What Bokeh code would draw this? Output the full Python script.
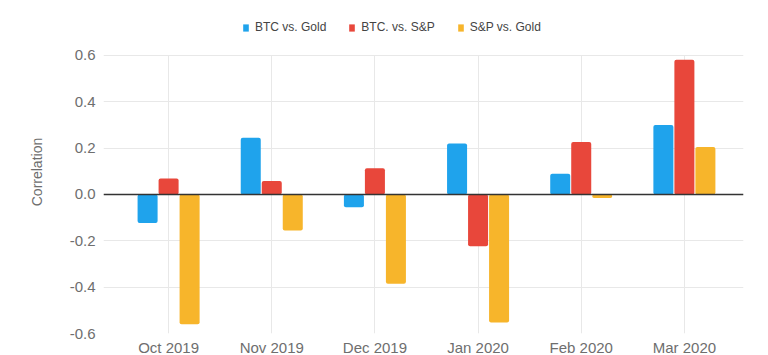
from bokeh.plotting import figure
from bokeh.models import (ColumnDataSource, Range1d, FixedTicker, PrintfTickFormatter,
                          Span, Legend, LegendItem, BoxAnnotation)
from bokeh.embed import file_html
from bokeh.resources import INLINE

months = ["Oct 2019", "Nov 2019", "Dec 2019", "Jan 2020", "Feb 2020", "Mar 2020"]
btc_vs_gold = [-0.123, 0.245, -0.055, 0.220, 0.089, 0.300]
btc_vs_sp = [0.069, 0.058, 0.113, -0.223, 0.227, 0.581]
sp_vs_gold = [-0.560, -0.155, -0.385, -0.553, -0.015, 0.205]
series_names = ["BTC vs. Gold", "BTC. vs. S&P", "S&P vs. Gold"]
y_ticks = [-0.6, -0.4, -0.2, 0.0, 0.2, 0.4, 0.6]

colors = ["#1FA3EC", "#E8473B", "#F7B52B"]
FONT = "Liberation Sans"
GRAY = "#6e6e6e"

idx = list(range(len(months)))
offset = 0.2036
width = 0.194

# frame extends above 0.6 to host the legend (space above the plotted area)
FH = 323
p = figure(frame_width=640, frame_height=FH, output_backend="svg", toolbar_location=None,
           x_range=Range1d(-0.631, 5.573), y_range=Range1d(-0.6, 0.794),
           min_border_left=103, min_border_top=10, min_border_right=17, min_border_bottom=22)
p.outline_line_color = None
p.background_fill_color = "white"

renderers = []
for k, (vals, col) in enumerate(zip([btc_vs_gold, btc_vs_sp, sp_vs_gold], colors)):
    src = ColumnDataSource(dict(x=[i + (k - 1) * offset for i in idx], top=vals))
    r = p.vbar(x="x", top="top", bottom=0, width=width, source=src,
               fill_color=col, line_color=None, border_radius=2)
    renderers.append(r)

p.add_layout(Span(location=0, dimension="width", line_color="#333333", line_width=1.6))

# axes
p.xaxis.ticker = FixedTicker(ticks=idx)
p.xaxis.major_label_overrides = {i: m for i, m in zip(idx, months)}
p.yaxis.ticker = FixedTicker(ticks=y_ticks)
p.yaxis.formatter = PrintfTickFormatter(format="%.1f")
for ax in (p.xaxis[0], p.yaxis[0]):
    ax.axis_line_color = None
    ax.major_tick_line_color = None
    ax.minor_tick_line_color = None
    ax.major_tick_out = 0
    ax.major_label_text_font = FONT
    ax.major_label_text_font_size = "15px"
    ax.major_label_text_color = GRAY
p.xaxis.major_label_standoff = 5
p.yaxis.major_label_standoff = 8
p.yaxis.axis_label = "Correlation"
p.yaxis.axis_label_text_font = FONT
p.yaxis.axis_label_text_font_size = "14px"
p.yaxis.axis_label_text_font_style = "normal"
p.yaxis.axis_label_text_color = GRAY
p.yaxis.axis_label_standoff = 22

p.xgrid.grid_line_color = "#e8e8e8"
p.ygrid.grid_line_color = "#e8e8e8"
p.xgrid.grid_line_width = 1
p.ygrid.grid_line_width = 1

# vertical grid lines stop at the top tick (0.6), as in the reference
try:
    p.xgrid.cross_bounds = (y_ticks[0], y_ticks[-1])
except Exception:
    p.add_layout(BoxAnnotation(bottom=y_ticks[-1] + 0.005, fill_color="white", fill_alpha=1,
                               line_color=None, level="underlay"))

legend = Legend(items=[LegendItem(label=n, renderers=[r]) for n, r in zip(series_names, renderers)],
                location=(139, 299), orientation="horizontal",
                padding=0, margin=0, spacing=22, label_standoff=6,
                glyph_width=7, glyph_height=9, label_height=12,
                label_text_font=FONT, label_text_font_size="12px", label_text_color="#444444",
                border_line_color=None, background_fill_alpha=0)
p.add_layout(legend, "center")

open("out.html", "w").write(file_html(p, INLINE))
